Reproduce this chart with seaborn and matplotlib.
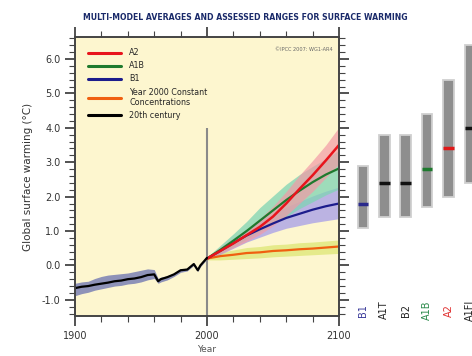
import numpy as np
import pandas as pd
import matplotlib
matplotlib.use("Agg")
import matplotlib.pyplot as plt
from matplotlib.ticker import MultipleLocator
import seaborn as sns

# 20th century observations
hist_years = [1900, 1905, 1910, 1915, 1920, 1925, 1930, 1935, 1940, 1945, 1950,
              1955, 1960, 1963, 1965, 1970, 1975, 1980, 1985, 1990, 1993, 1995, 2000]
hist_mean = [-0.66, -0.62, -0.60, -0.56, -0.53, -0.50, -0.46, -0.44, -0.40, -0.38, -0.34,
             -0.28, -0.26, -0.46, -0.40, -0.34, -0.26, -0.14, -0.12, 0.04, -0.14, 0.00, 0.22]
hist_low = [-0.88, -0.82, -0.78, -0.72, -0.68, -0.64, -0.60, -0.58, -0.54, -0.52, -0.48,
            -0.42, -0.38, -0.52, -0.48, -0.42, -0.32, -0.20, -0.16, 0.00, -0.18, -0.04, 0.18]
hist_high = [-0.52, -0.48, -0.46, -0.38, -0.32, -0.28, -0.26, -0.24, -0.22, -0.18, -0.14,
             -0.10, -0.12, -0.38, -0.34, -0.30, -0.22, -0.10, -0.08, 0.08, -0.10, 0.04, 0.26]

# projections 2000-2100 (10-year steps)
proj_years = [2000, 2010, 2020, 2030, 2040, 2050, 2060, 2070, 2080, 2090, 2100]
a2_mean = [0.20, 0.42, 0.64, 0.88, 1.12, 1.42, 1.80, 2.22, 2.62, 3.05, 3.50]
a2_low = [0.18, 0.34, 0.52, 0.70, 0.90, 1.15, 1.45, 1.80, 2.15, 2.55, 2.95]
a2_high = [0.24, 0.52, 0.78, 1.05, 1.36, 1.72, 2.15, 2.62, 3.05, 3.50, 4.02]
a1b_mean = [0.20, 0.45, 0.72, 1.00, 1.30, 1.60, 1.90, 2.17, 2.42, 2.64, 2.82]
a1b_low = [0.18, 0.34, 0.55, 0.76, 0.98, 1.20, 1.42, 1.65, 1.85, 2.05, 2.22]
a1b_high = [0.24, 0.58, 0.92, 1.28, 1.68, 2.02, 2.36, 2.64, 2.88, 3.10, 3.35]
b1_mean = [0.20, 0.42, 0.65, 0.87, 1.05, 1.22, 1.38, 1.50, 1.62, 1.72, 1.80]
b1_low = [0.18, 0.32, 0.50, 0.68, 0.82, 0.96, 1.08, 1.16, 1.24, 1.30, 1.36]
b1_high = [0.23, 0.52, 0.80, 1.06, 1.30, 1.50, 1.70, 1.86, 2.02, 2.16, 2.28]
commit_mean = [0.20, 0.27, 0.31, 0.36, 0.38, 0.42, 0.44, 0.47, 0.49, 0.52, 0.55]
commit_low = [0.16, 0.16, 0.18, 0.20, 0.22, 0.25, 0.27, 0.29, 0.31, 0.33, 0.35]
commit_high = [0.24, 0.38, 0.45, 0.52, 0.55, 0.60, 0.62, 0.66, 0.68, 0.71, 0.74]

# likely ranges at 2090-2099
scen_names = ["B1", "A1T", "B2", "A1B", "A2", "A1FI"]
scen_low = [1.1, 1.4, 1.4, 1.7, 2.0, 2.4]
scen_high = [2.9, 3.8, 3.8, 4.4, 5.4, 6.4]
scen_best = [1.8, 2.4, 2.4, 2.8, 3.4, 4.0]
scen_colors = ["#2a2a8c", "#111111", "#111111", "#1e7a2e", "#e01818", "#111111"]
label_colors = ["#3a3a9a", "#222222", "#222222", "#2a8a4a", "#e03030", "#222222"]

sns.set_style("ticks")
plt.rcParams['font.family'] = ['DejaVu Sans']

fig = plt.figure(figsize=(4.72, 3.56), dpi=100)
ax = fig.add_axes([75/472, 1 - 316/356, 264/472, 279/356])
ax.set_facecolor("#fdf6cf")

ylo, yhi = -1.47, 6.64

# shaded ranges
ax.fill_between(hist_years, hist_low, hist_high, color="#8e92b8", lw=0)
ax.fill_between(proj_years, commit_low, commit_high, color="#dfe87a", alpha=0.8, lw=0)
ax.fill_between(proj_years, b1_low, b1_high, color="#b0a8e6", alpha=0.85, lw=0)
ax.fill_between(proj_years, a1b_low, a1b_high, color="#7fd4b4", alpha=0.75, lw=0)
ax.fill_between(proj_years, a2_low, a2_high, color="#f29aa6", alpha=0.7, lw=0)

ax.vlines(2000, ylo, 4.0, color="#8a8a8a", lw=1.5, zorder=1)

sns.lineplot(x=proj_years, y=commit_mean, color="#f06010", lw=1.6, ax=ax,
             label="Year 2000 Constant\nConcentrations")
sns.lineplot(x=proj_years, y=b1_mean, color="#1c1c8c", lw=1.6, ax=ax, label="B1")
sns.lineplot(x=proj_years, y=a1b_mean, color="#1e7a2e", lw=1.6, ax=ax, label="A1B")
sns.lineplot(x=proj_years, y=a2_mean, color="#e8141c", lw=1.8, ax=ax, label="A2")
sns.lineplot(x=hist_years, y=hist_mean, color="#000000", lw=1.6, ax=ax, label="20th century")

handles, labels = ax.get_legend_handles_labels()
order = ["A2", "A1B", "B1", "Year 2000 Constant\nConcentrations", "20th century"]
hmap = dict(zip(labels, handles))
leg = ax.legend([hmap[k] for k in order], order, loc="upper left", frameon=False,
                fontsize=5.8, handlelength=4.2, handletextpad=1.0, labelspacing=0.5,
                borderaxespad=0.5, bbox_to_anchor=(0.02, 0.985))
for lh in leg.get_lines():
    lh.set_linewidth(2.2)

ax.text(0.975, 0.965, "\u00a9IPCC 2007: WG1-AR4", transform=ax.transAxes, ha="right",
        va="top", fontsize=3.6, color="#666666")

ax.set_xlim(1900, 2100)
ax.set_ylim(ylo, yhi)
ax.set_xticks([1900, 2000, 2100])
ax.xaxis.set_minor_locator(MultipleLocator(20))
ax.set_yticks([-1, 0, 1, 2, 3, 4, 5, 6])
ax.set_yticklabels(["-1.0", "0.0", "1.0", "2.0", "3.0", "4.0", "5.0", "6.0"])
ax.yaxis.set_minor_locator(MultipleLocator(0.2))
ax.tick_params(which="both", direction="out", top=True, right=True, color="#444444",
               labelsize=7, labelcolor="#333333")
ax.tick_params(which="major", length=7, width=1.3)
ax.tick_params(which="minor", length=4, width=0.8)
for s in ax.spines.values():
    s.set_linewidth(1.4)
    s.set_color("#444444")
ax.set_xlabel("Year", fontsize=6.5, color="#555555", labelpad=3)
ax.set_ylabel("Global surface warming (\u00b0C)", fontsize=7.5, color="#333333", labelpad=6)

# right panel with scenario ranges
ax2 = fig.add_axes([340/472, 1 - 316/356, 140/472, 279/356])
ax2.set_ylim(ylo, yhi)
ax2.set_xlim(-1.07, 5.47)
ax2.axis("off")
xs = np.arange(len(scen_names))
ax2.bar(xs, np.array(scen_high) - np.array(scen_low), bottom=scen_low, width=0.5,
        color="#8e8e8e", edgecolor="#d0d0d0", linewidth=1.3)
ax2.hlines(scen_best, xs - 0.25, xs + 0.25, colors=scen_colors, linewidth=2.5)
for x, name, c in zip(xs, scen_names, label_colors):
    ax2.text(x, -1.3, name, rotation=90, ha="center", va="center", fontsize=7, color=c)

fig.text(245/472, 1 - 18/356, "MULTI-MODEL AVERAGES AND ASSESSED RANGES FOR SURFACE WARMING",
         ha="center", va="center", fontsize=5.6, fontweight="bold", color="#1a2a6a")

fig.savefig("out.png", dpi=100, facecolor="white")
